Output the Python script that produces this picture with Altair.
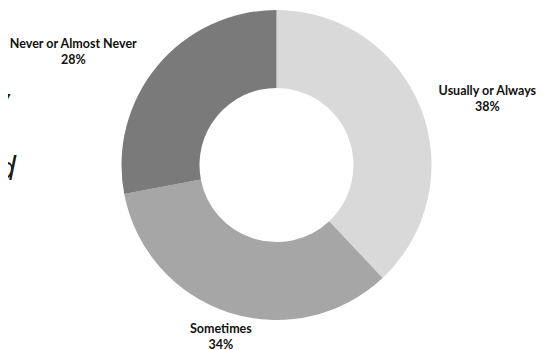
import altair as alt
import pandas as pd

categories = ["Usually or Always", "Sometimes", "Never or Almost Never"]
values = [38, 34, 28]
colors = ["#d9d9d9", "#a6a6a6", "#7a7a7a"]

df = pd.DataFrame({"category": categories, "value": values, "order": list(range(len(categories)))})

CX, CY = 268.5, 157

base = alt.Chart(df).transform_window(
    cum="sum(value)", sort=[alt.SortField("order")]
).transform_calculate(
    start="datum.cum - datum.value",
    mid="datum.cum - datum.value / 2",
    label="datum.category + '\\n' + datum.value + '%'",
)

theta_scale = alt.Scale(domain=[0, 100])

arcs = base.mark_arc(innerRadius=77, outerRadius=155).encode(
    theta=alt.Theta("start:Q", scale=theta_scale, stack=None),
    theta2="cum:Q",
    color=alt.Color("category:N", scale=alt.Scale(domain=categories, range=colors), legend=None),
    x=alt.value(CX),
    y=alt.value(CY),
)


def label_layer(cat, radius, dx, dy):
    return base.transform_filter(alt.datum.category == cat).mark_text(
        radius=radius, dx=dx, dy=dy, lineBreak="\n", font="Lato", fontWeight="bold",
        fontSize=12.5, lineHeight=16, color="#111111", align="center", baseline="middle",
    ).encode(
        theta=alt.Theta("mid:Q", scale=theta_scale, stack=None),
        text="label:N",
        x=alt.value(CX),
        y=alt.value(CY),
    )


labels = [
    label_layer("Usually or Always", 230, -3, 11),
    label_layer("Never or Almost Never", 230, -26, 26),
    label_layer("Sometimes", 180, 0, -7),
]

deco_text = ["v", "d"]
deco_layers = []
for t, xv, yv in zip(deco_text, [1, 8], [104, 172]):
    deco_layers.append(
        alt.Chart(pd.DataFrame({"t": [t]})).mark_text(
            font="Open Sans", fontStyle="italic", fontSize=32, color="#1a1a1a",
            align="right", baseline="alphabetic",
        ).encode(text="t:N", x=alt.value(xv), y=alt.value(yv))
    )

chart = alt.layer(arcs, *labels, *deco_layers).properties(
    width=531, height=342, padding=0, autosize=alt.AutoSizeParams(type="none")
).configure_view(stroke=None)

chart.save("out.html", embed_options={"renderer": "svg", "actions": False})
